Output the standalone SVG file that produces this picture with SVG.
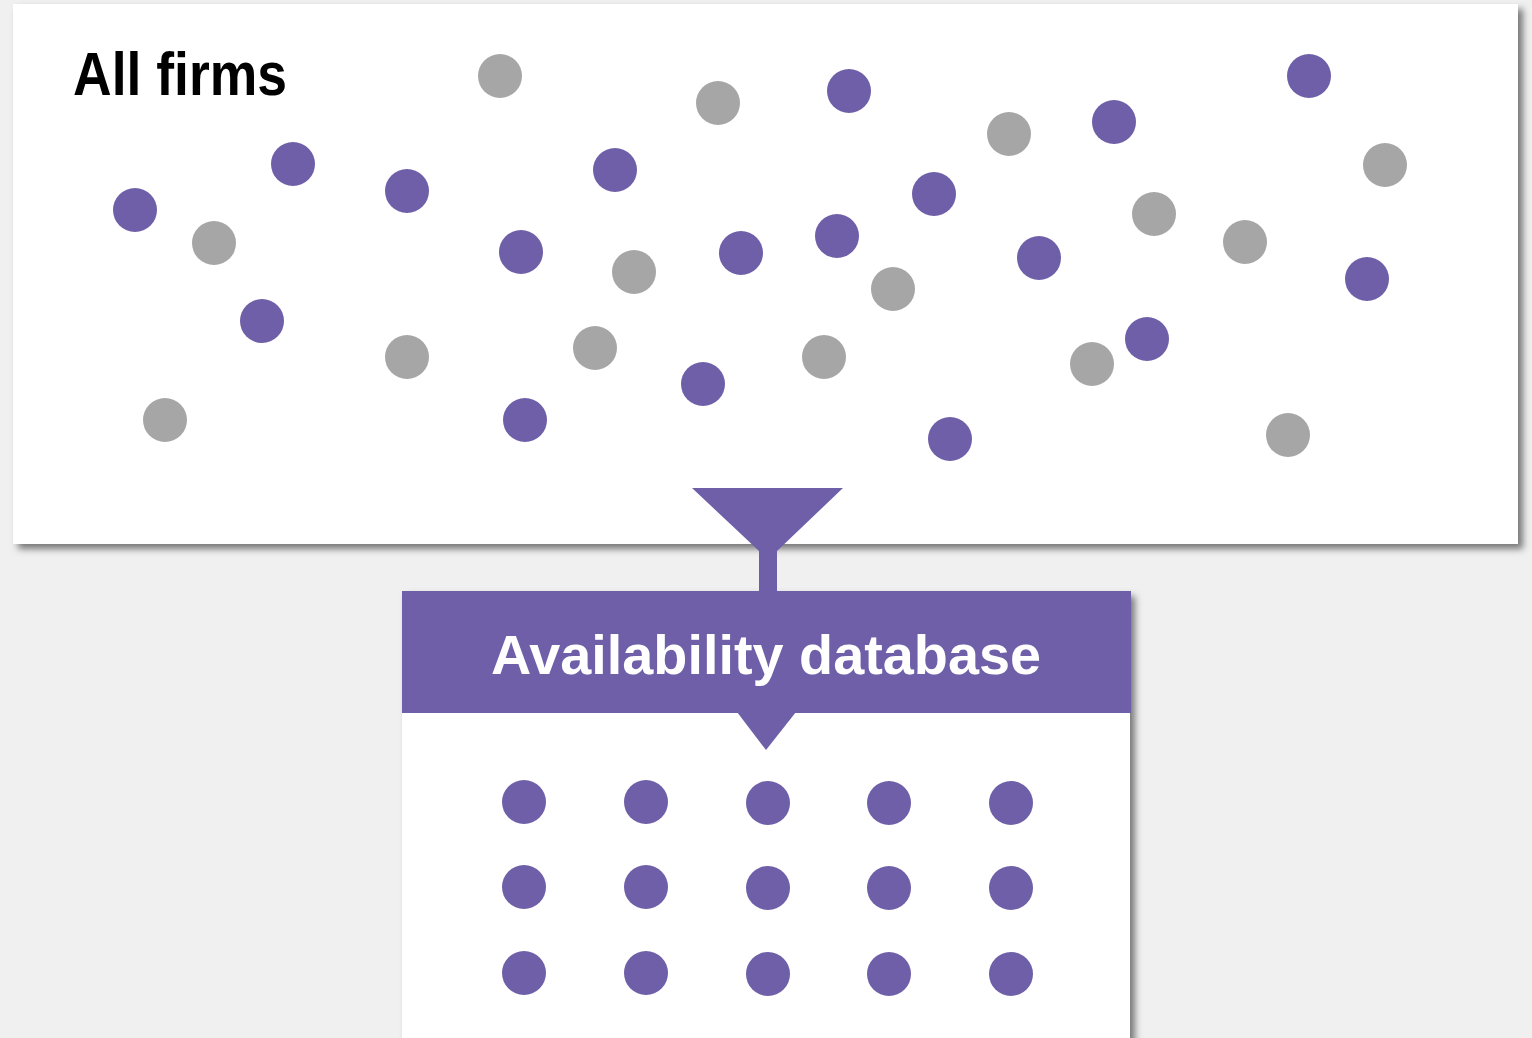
<svg xmlns="http://www.w3.org/2000/svg" width="1532" height="1038" viewBox="0 0 1532 1038">
<style>
.p{fill:#6F5FA8}
.g{fill:#A6A6A6}
.panel{fill:#ffffff;filter:url(#sh)}
.t{font-family:"Liberation Sans",Arial,sans-serif;font-weight:bold}
</style>
<defs>
<filter id="sh" x="-5%" y="-5%" width="110%" height="115%">
<feDropShadow dx="5" dy="5" stdDeviation="3.5" flood-color="#000" flood-opacity="0.5"/>
</filter>
</defs>
<rect width="1532" height="1038" fill="#F0F0F0"/>
<g id="all-firms">
<rect class="panel" x="13" y="4" width="1505" height="540"/>
<text class="t" x="73" y="95" font-size="62" textLength="214" lengthAdjust="spacingAndGlyphs" fill="#000">All firms</text>
<g id="firms-scatter">
<circle class="g" cx="500" cy="76" r="22"/>
<circle class="g" cx="718" cy="103" r="22"/>
<circle class="g" cx="1009" cy="134" r="22"/>
<circle class="g" cx="1385" cy="165" r="22"/>
<circle class="g" cx="214" cy="243" r="22"/>
<circle class="g" cx="634" cy="272" r="22"/>
<circle class="g" cx="1154" cy="214" r="22"/>
<circle class="g" cx="1245" cy="242" r="22"/>
<circle class="g" cx="893" cy="289" r="22"/>
<circle class="g" cx="407" cy="357" r="22"/>
<circle class="g" cx="595" cy="348" r="22"/>
<circle class="g" cx="824" cy="357" r="22"/>
<circle class="g" cx="1092" cy="364" r="22"/>
<circle class="g" cx="165" cy="420" r="22"/>
<circle class="g" cx="1288" cy="435" r="22"/>
<circle class="p" cx="849" cy="91" r="22"/>
<circle class="p" cx="1114" cy="122" r="22"/>
<circle class="p" cx="1309" cy="76" r="22"/>
<circle class="p" cx="293" cy="164" r="22"/>
<circle class="p" cx="407" cy="191" r="22"/>
<circle class="p" cx="615" cy="170" r="22"/>
<circle class="p" cx="135" cy="210" r="22"/>
<circle class="p" cx="934" cy="194" r="22"/>
<circle class="p" cx="521" cy="252" r="22"/>
<circle class="p" cx="741" cy="253" r="22"/>
<circle class="p" cx="837" cy="236" r="22"/>
<circle class="p" cx="1039" cy="258" r="22"/>
<circle class="p" cx="1367" cy="279" r="22"/>
<circle class="p" cx="262" cy="321" r="22"/>
<circle class="p" cx="1147" cy="339" r="22"/>
<circle class="p" cx="703" cy="384" r="22"/>
<circle class="p" cx="525" cy="420" r="22"/>
<circle class="p" cx="950" cy="439" r="22"/>
</g>
</g>
<g id="availability-database">
<rect class="panel" x="402" y="591" width="728" height="470"/>
<rect class="p" x="402" y="591" width="729" height="122"/>
<text class="t" x="766" y="674" font-size="56" text-anchor="middle" textLength="550" lengthAdjust="spacingAndGlyphs" fill="#fff">Availability database</text>
<g id="db-grid">
<circle class="p" cx="524" cy="802" r="22"/>
<circle class="p" cx="646" cy="802" r="22"/>
<circle class="p" cx="768" cy="803" r="22"/>
<circle class="p" cx="889" cy="803" r="22"/>
<circle class="p" cx="1011" cy="803" r="22"/>
<circle class="p" cx="524" cy="887" r="22"/>
<circle class="p" cx="646" cy="887" r="22"/>
<circle class="p" cx="768" cy="888" r="22"/>
<circle class="p" cx="889" cy="888" r="22"/>
<circle class="p" cx="1011" cy="888" r="22"/>
<circle class="p" cx="524" cy="973" r="22"/>
<circle class="p" cx="646" cy="973" r="22"/>
<circle class="p" cx="768" cy="974" r="22"/>
<circle class="p" cx="889" cy="974" r="22"/>
<circle class="p" cx="1011" cy="974" r="22"/>
</g>
</g>
<g id="connectors">
<path class="p" d="M692,488 L843,488 L777,551 L777,592 L759,592 L759,551 Z"/>
<path class="p" d="M737,712 L796,712 L766,750 Z"/>
</g>
</svg>
